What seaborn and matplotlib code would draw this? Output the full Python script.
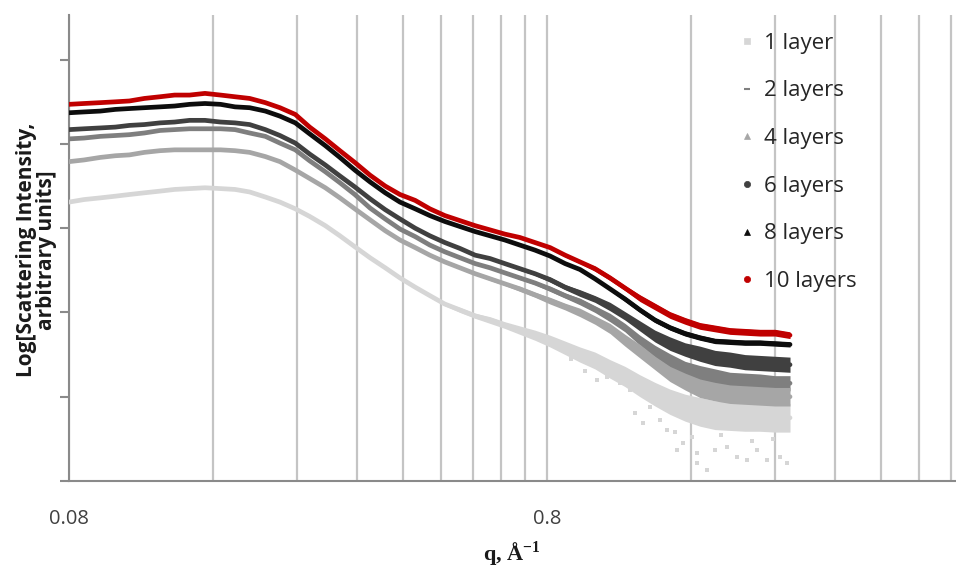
import matplotlib
matplotlib.use("Agg")
import matplotlib.pyplot as plt
from matplotlib.lines import Line2D
from matplotlib.ticker import FixedLocator, NullFormatter
import numpy as np
import pandas as pd
import seaborn as sns

# Scattering vector q (1/Angstrom)
q = [0.080, 0.086, 0.093, 0.100, 0.107, 0.115, 0.124, 0.133, 0.143, 0.154,
     0.166, 0.178, 0.191, 0.206, 0.221, 0.238, 0.255, 0.275, 0.295, 0.317,
     0.341, 0.367, 0.394, 0.424, 0.455, 0.489, 0.526, 0.566, 0.608, 0.653,
     0.702, 0.755, 0.812, 0.873, 0.938, 1.008, 1.084, 1.165, 1.252, 1.346,
     1.447, 1.556, 1.672, 1.798, 1.932, 2.077, 2.232, 2.400, 2.580]

# Log scattering intensity (arbitrary units) for each sample
layers_1 = [3.31, 3.34, 3.36, 3.38, 3.40, 3.42, 3.44, 3.46, 3.47, 3.48,
            3.47, 3.46, 3.43, 3.37, 3.31, 3.23, 3.14, 3.03, 2.91, 2.78,
            2.65, 2.53, 2.41, 2.30, 2.20, 2.10, 2.03, 1.96, 1.91, 1.85,
            1.79, 1.73, 1.66, 1.58, 1.50, 1.43, 1.33, 1.24, 1.13, 1.03,
            0.94, 0.87, 0.82, 0.78, 0.77, 0.76, 0.76, 0.75, 0.75]
layers_2 = [4.06, 4.07, 4.09, 4.10, 4.11, 4.13, 4.16, 4.17, 4.18, 4.18,
            4.18, 4.17, 4.13, 4.09, 4.01, 3.93, 3.80, 3.67, 3.54, 3.40,
            3.24, 3.11, 2.99, 2.90, 2.80, 2.72, 2.65, 2.58, 2.53, 2.47,
            2.41, 2.35, 2.28, 2.20, 2.13, 2.04, 1.94, 1.82, 1.67, 1.54,
            1.43, 1.34, 1.28, 1.24, 1.20, 1.19, 1.18, 1.16, 1.16]
layers_4 = [3.79, 3.81, 3.84, 3.86, 3.87, 3.90, 3.92, 3.93, 3.93, 3.93,
            3.93, 3.92, 3.90, 3.85, 3.79, 3.69, 3.59, 3.48, 3.36, 3.23,
            3.10, 2.97, 2.86, 2.77, 2.68, 2.60, 2.53, 2.46, 2.40, 2.34,
            2.28, 2.21, 2.14, 2.07, 2.00, 1.91, 1.81, 1.67, 1.54, 1.40,
            1.27, 1.18, 1.10, 1.06, 1.03, 1.02, 1.01, 1.00, 1.00]
layers_6 = [4.17, 4.18, 4.19, 4.20, 4.22, 4.23, 4.25, 4.26, 4.28, 4.28,
            4.26, 4.25, 4.23, 4.17, 4.10, 4.01, 3.88, 3.75, 3.62, 3.49,
            3.35, 3.22, 3.11, 3.00, 2.91, 2.83, 2.76, 2.68, 2.64, 2.58,
            2.52, 2.46, 2.39, 2.30, 2.23, 2.16, 2.07, 1.96, 1.84, 1.72,
            1.63, 1.56, 1.51, 1.46, 1.44, 1.41, 1.40, 1.39, 1.38]
layers_8 = [4.37, 4.38, 4.39, 4.41, 4.42, 4.43, 4.44, 4.45, 4.47, 4.48,
            4.47, 4.44, 4.43, 4.39, 4.33, 4.25, 4.12, 3.98, 3.84, 3.69,
            3.55, 3.42, 3.31, 3.23, 3.15, 3.08, 3.02, 2.96, 2.91, 2.86,
            2.80, 2.74, 2.67, 2.58, 2.51, 2.40, 2.28, 2.16, 2.03, 1.91,
            1.82, 1.75, 1.70, 1.66, 1.65, 1.64, 1.64, 1.63, 1.62]
layers_10 = [4.47, 4.48, 4.49, 4.50, 4.51, 4.54, 4.56, 4.58, 4.58, 4.60,
             4.58, 4.56, 4.54, 4.49, 4.43, 4.35, 4.20, 4.06, 3.92, 3.78,
             3.63, 3.50, 3.40, 3.33, 3.23, 3.15, 3.09, 3.03, 2.98, 2.93,
             2.89, 2.83, 2.77, 2.68, 2.60, 2.52, 2.41, 2.29, 2.17, 2.07,
             1.97, 1.90, 1.84, 1.81, 1.78, 1.77, 1.76, 1.76, 1.73]

# Half-width of the point scatter about each curve (same units)
spread_1 = [0.00, 0.00, 0.00, 0.00, 0.00, 0.00, 0.00, 0.00, 0.00, 0.00,
            0.00, 0.00, 0.00, 0.00, 0.00, 0.00, 0.00, 0.00, 0.00, 0.00,
            0.00, 0.00, 0.01, 0.01, 0.02, 0.02, 0.03, 0.03, 0.04, 0.04,
            0.05, 0.06, 0.07, 0.08, 0.09, 0.10, 0.11, 0.12, 0.13, 0.14,
            0.15, 0.16, 0.17, 0.17, 0.17, 0.17, 0.17, 0.17, 0.17]
spread_2 = [0.00, 0.00, 0.00, 0.00, 0.00, 0.00, 0.00, 0.00, 0.00, 0.00,
            0.00, 0.00, 0.00, 0.00, 0.00, 0.00, 0.00, 0.00, 0.00, 0.00,
            0.00, 0.00, 0.00, 0.00, 0.00, 0.00, 0.00, 0.00, 0.01, 0.01,
            0.02, 0.02, 0.03, 0.03, 0.04, 0.04, 0.05, 0.05, 0.06, 0.07,
            0.08, 0.08, 0.09, 0.09, 0.09, 0.09, 0.09, 0.09, 0.09]
spread_4 = [0.00, 0.00, 0.00, 0.00, 0.00, 0.00, 0.00, 0.00, 0.00, 0.00,
            0.00, 0.00, 0.00, 0.00, 0.00, 0.00, 0.00, 0.00, 0.00, 0.00,
            0.00, 0.00, 0.00, 0.00, 0.00, 0.00, 0.01, 0.01, 0.02, 0.02,
            0.03, 0.03, 0.04, 0.04, 0.05, 0.05, 0.06, 0.07, 0.08, 0.08,
            0.09, 0.10, 0.11, 0.11, 0.11, 0.11, 0.11, 0.11, 0.11]
spread_6 = [0.00, 0.00, 0.00, 0.00, 0.00, 0.00, 0.00, 0.00, 0.00, 0.00,
            0.00, 0.00, 0.00, 0.00, 0.00, 0.00, 0.00, 0.00, 0.00, 0.00,
            0.00, 0.00, 0.00, 0.00, 0.00, 0.00, 0.00, 0.00, 0.01, 0.01,
            0.02, 0.02, 0.03, 0.03, 0.04, 0.04, 0.05, 0.05, 0.06, 0.07,
            0.08, 0.08, 0.09, 0.09, 0.09, 0.09, 0.09, 0.09, 0.09]
spread_8 = [0.00, 0.00, 0.00, 0.00, 0.00, 0.00, 0.00, 0.00, 0.00, 0.00,
            0.00, 0.00, 0.00, 0.00, 0.00, 0.00, 0.00, 0.00, 0.00, 0.00,
            0.00, 0.00, 0.00, 0.00, 0.00, 0.00, 0.00, 0.00, 0.00, 0.00,
            0.00, 0.00, 0.01, 0.01, 0.02, 0.02, 0.02, 0.03, 0.03, 0.03,
            0.03, 0.03, 0.03, 0.03, 0.03, 0.03, 0.03, 0.03, 0.03]
spread_10 = [0.00, 0.00, 0.00, 0.00, 0.00, 0.00, 0.00, 0.00, 0.00, 0.00,
             0.00, 0.00, 0.00, 0.00, 0.00, 0.00, 0.00, 0.00, 0.00, 0.00,
             0.00, 0.00, 0.00, 0.00, 0.00, 0.00, 0.00, 0.00, 0.00, 0.00,
             0.00, 0.00, 0.01, 0.02, 0.02, 0.03, 0.03, 0.03, 0.04, 0.04,
             0.04, 0.04, 0.04, 0.04, 0.04, 0.04, 0.04, 0.04, 0.04]

# Isolated noisy points of the single-layer sample at high q
stray_q_1 = [0.900, 0.960, 1.020, 1.069, 1.137, 1.194, 1.223, 1.270, 1.314,
             1.380, 1.426, 1.482, 1.497, 1.540, 1.570, 1.610, 1.648, 1.648,
             1.729, 1.797, 1.850, 1.904, 1.997, 2.096, 2.150, 2.200, 2.309,
             2.380, 2.458, 2.542]
stray_v_1 = [1.45, 1.30, 1.20, 1.24, 1.16, 1.08, 0.81, 0.69, 0.88,
             0.72, 0.61, 0.58, 0.37, 0.45, 0.76, 0.52, 0.33, 0.21,
             0.13, 0.37, 0.55, 0.40, 0.29, 0.25, 0.48, 0.37, 0.25,
             0.50, 0.29, 0.21]

labels = ["1 layer", "2 layers", "4 layers", "6 layers", "8 layers", "10 layers"]
values = [layers_1, layers_2, layers_4, layers_6, layers_8, layers_10]
spreads = [spread_1, spread_2, spread_4, spread_6, spread_8, spread_10]
colors = ["#d6d6d6", "#7f7f7f", "#a6a6a6", "#404040", "#0d0d0d", "#c00000"]
markers = ["s", "_", "^", "o", "^", "o"]

x_ticks = [0.08, 0.8]
x_ticklabels = ["0.08", "0.8"]
grid_q = [0.16, 0.24, 0.32, 0.40, 0.48, 0.56, 0.64, 0.72,
          1.6, 2.4, 3.2, 4.0, 4.8, 5.6]
y_ticks = [0, 1, 2, 3, 4, 5]

df = pd.concat(
    [pd.DataFrame({"q": q, "I": v, "s": s, "series": lab})
     for lab, v, s in zip(labels, values, spreads)],
    ignore_index=True,
)

sns.set_style("white")
plt.rcParams["font.family"] = ["Open Sans", "DejaVu Sans"]
plt.rcParams["mathtext.fontset"] = "custom"
plt.rcParams["mathtext.bf"] = "Liberation Serif:bold"
plt.rcParams["mathtext.rm"] = "Liberation Serif:bold"

fig = plt.figure(figsize=(9.56, 5.67), dpi=100)
ax = fig.add_axes([0.0722, 0.1517, 0.9278, 0.8218])
ax.set_xscale("log")

for lab, col in zip(labels, colors):
    sub = df[df["series"] == lab]
    ax.fill_between(sub["q"], sub["I"] - sub["s"], sub["I"] + sub["s"],
                    color=col, lw=0, zorder=2)
    sns.lineplot(data=sub, x="q", y="I", color=col, lw=3.4, ax=ax,
                 estimator=None, sort=False, legend=False, zorder=3)
    if lab == "1 layer":
        sns.scatterplot(x=stray_q_1, y=stray_v_1, color=col, s=9,
                        marker="s", linewidth=0, ax=ax, zorder=2)

ax.set_xlim(0.08, 5.74)
ax.set_ylim(0, 5.53)

ax.set_xticks(x_ticks)
ax.set_xticklabels(x_ticklabels)
ax.xaxis.set_minor_locator(FixedLocator(grid_q))
ax.xaxis.set_minor_formatter(NullFormatter())
ax.set_yticks(y_ticks)
ax.set_yticklabels([])
ax.grid(True, which="both", axis="x", color="#c4c4c4", lw=1.6, zorder=0)
ax.grid(False, axis="y")
ax.set_axisbelow(True)

for side in ["top", "right"]:
    ax.spines[side].set_visible(False)
for side in ["left", "bottom"]:
    ax.spines[side].set_color("#8a8a8a")
    ax.spines[side].set_linewidth(1.5)

ax.tick_params(axis="x", which="major", direction="out", length=5, width=1.5,
               color="#8a8a8a", pad=15, labelsize=14.5, labelcolor="#404040")
ax.tick_params(axis="x", which="minor", length=0)
ax.tick_params(axis="y", which="major", direction="out", length=6.5, width=1.5,
               color="#8a8a8a", left=True)

ax.set_ylabel("Log[Scattering Intensity,\narbitrary units]", fontsize=15,
              fontweight="bold", color="#1a1a1a", linespacing=0.95)
ax.yaxis.set_label_coords(-0.013, 0.496)
ax.set_xlabel(r"q, Å$^{\mathbf{-1}}$", fontsize=16, fontweight="bold",
              family="Liberation Serif", color="#1a1a1a")
ax.xaxis.set_label_coords(0.4994, -0.125)

handles = [Line2D([], [], ls="", marker=m, color=c, ms=4.5,
                  markeredgewidth=1.5 if m == "_" else 0.5)
           for m, c in zip(markers, colors)]
ax.legend(handles, labels, loc="upper left", bbox_to_anchor=(0.757, 0.962),
          frameon=False, fontsize=16, labelspacing=1.2, handlelength=0.6,
          handletextpad=0.45, borderaxespad=0, borderpad=0,
          labelcolor="#262626")

fig.savefig("out.png", dpi=100)
